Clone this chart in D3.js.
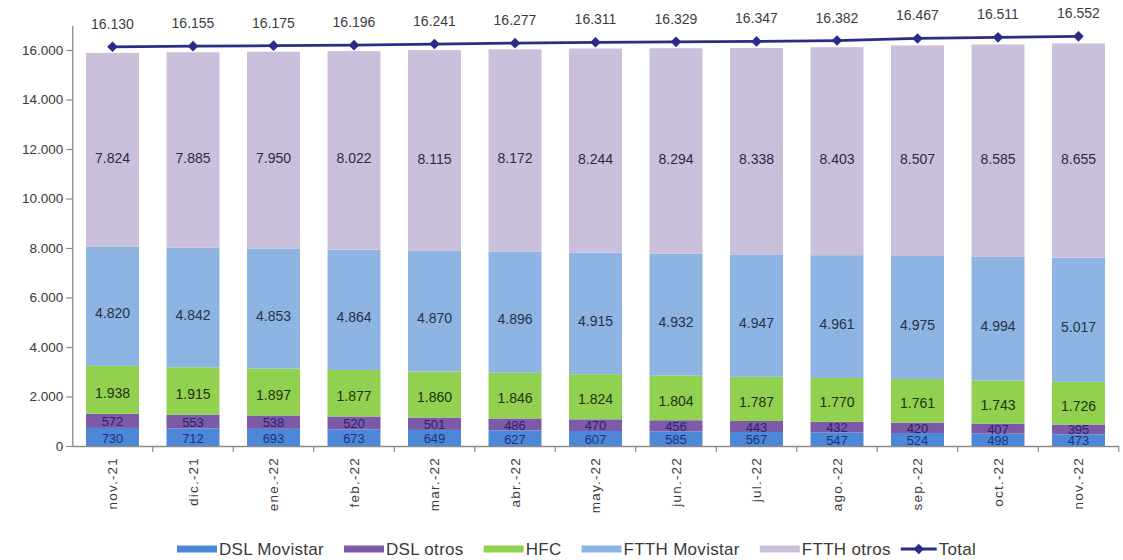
<!DOCTYPE html>
<html>
<head>
<meta charset="utf-8">
<script src="https://cdn.jsdelivr.net/npm/d3@7"></script>
<style>
  html, body { margin: 0; padding: 0; background: #fff; }
  svg { display: block; font-family: "Liberation Sans", Arial, sans-serif; }
</style>
</head>
<body>
<svg id="chart" width="1123" height="560"></svg>
<script>
const months = ["nov.-21","dic.-21","ene.-22","feb.-22","mar.-22","abr.-22","may.-22","jun.-22","jul.-22","ago.-22","sep.-22","oct.-22","nov.-22"];
const dslMovistar = [730,712,693,673,649,627,607,585,567,547,524,498,473];
const dslOtros = [572,553,538,520,501,486,470,456,443,432,420,407,395];
const hfc = [1938,1915,1897,1877,1860,1846,1824,1804,1787,1770,1761,1743,1726];
const ftthMovistar = [4820,4842,4853,4864,4870,4896,4915,4932,4947,4961,4975,4994,5017];
const ftthOtros = [7824,7885,7950,8022,8115,8172,8244,8294,8338,8403,8507,8585,8655];
const total = [16130,16155,16175,16196,16241,16277,16311,16329,16347,16382,16467,16511,16552];
const yTicks = [0,2000,4000,6000,8000,10000,12000,14000,16000];

const series = [
  {key:"DSL Movistar", values:dslMovistar, color:"#4d88d8", text:"#1c3478"},
  {key:"DSL otros", values:dslOtros, color:"#7c5aa7", text:"#2a2270"},
  {key:"HFC", values:hfc, color:"#92d050", text:"#1e3212"},
  {key:"FTTH Movistar", values:ftthMovistar, color:"#8db4e2", text:"#263248"},
  {key:"FTTH otros", values:ftthOtros, color:"#cac0dc", text:"#2b2b3d"}
];
const totalColor = "#2c2b88";

const loc = d3.formatLocale({decimal:",", thousands:".", grouping:[3], currency:["","€"]});
const fmt = loc.format(",d");

const svg = d3.select("#chart");
const x0 = 72.25, x1 = 1118.75;
const x = d3.scaleBand().domain(months).range([x0, x1]).paddingInner(0.342).paddingOuter(0.171);
const y = d3.scaleLinear().domain([0, 17000]).range([446, 25.25]);

const table = months.map((m, i) => {
  const row = {month: m};
  series.forEach(s => row[s.key] = s.values[i]);
  return row;
});
const stack = d3.stack().keys(series.map(s => s.key))(table);

// bars
const g = svg.append("g");
stack.forEach((layer, li) => {
  const s = series[li];
  g.append("g").selectAll("rect").data(layer).join("rect")
    .attr("x", d => x(d.data.month))
    .attr("width", x.bandwidth())
    .attr("y", d => y(d[1]))
    .attr("height", d => y(d[0]) - y(d[1]))
    .attr("fill", s.color);
});

// value labels
stack.forEach((layer, li) => {
  const s = series[li];
  g.append("g").selectAll("text").data(layer).join("text")
    .attr("x", d => x(d.data.month) + x.bandwidth() / 2)
    .attr("y", d => {
      const h = y(d[0]) - y(d[1]);
      return (y(d[0]) + y(d[1])) / 2 + Math.min(8, 0.06 * h);
    })
    .attr("text-anchor", "middle")
    .attr("dominant-baseline", "central")
    .attr("font-size", li < 2 ? 13 : 14)
    .attr("fill", s.text)
    .text(d => fmt(d[1] - d[0]));
});

// y axis
const yAxis = svg.append("g").attr("transform", `translate(${x0},0)`)
  .call(d3.axisLeft(y).tickValues(yTicks).tickSize(6).tickSizeOuter(0).tickFormat(fmt));
yAxis.select(".domain").attr("stroke", "#8a8a8a").attr("stroke-width", 1.3);
yAxis.selectAll(".tick line").attr("stroke", "#8a8a8a").attr("stroke-width", 1.2);
yAxis.selectAll(".tick text").attr("font-size", 13.5).attr("fill", "#3a3a3a")
  .attr("font-family", "Liberation Sans, Arial, sans-serif").attr("x", -9);

// x axis
const xAxis = svg.append("g").attr("transform", `translate(0,${y(0)})`)
  .call(d3.axisBottom(x).tickSize(0).tickSizeOuter(0));
xAxis.select(".domain").attr("stroke", "#8a8a8a").attr("stroke-width", 1.3)
  .attr("d", `M${x0},0.5H${x1}`);
xAxis.selectAll(".tick text")
  .attr("font-size", 13.5).attr("fill", "#3a3a3a")
  .attr("letter-spacing", 1.2)
  .attr("font-family", "Liberation Sans, Arial, sans-serif")
  .attr("transform", "rotate(-90)")
  .attr("text-anchor", "end")
  .attr("dominant-baseline", "central")
  .attr("x", -11).attr("y", 0).attr("dy", null);
const bounds = months.map(m => x(m) - x.step() * x.paddingInner() / 2).slice(1).concat([x1]);
xAxis.append("g").selectAll("line").data(bounds).join("line")
  .attr("x1", d => d).attr("x2", d => d).attr("y1", 0).attr("y2", 6)
  .attr("stroke", "#8a8a8a").attr("stroke-width", 1.2);

// total line
const cx = m => x(m) + x.bandwidth() / 2;
const line = d3.line().x((d, i) => cx(months[i])).y(d => y(d));
svg.append("path").datum(total).attr("d", line)
  .attr("fill", "none").attr("stroke", totalColor).attr("stroke-width", 2.8);
const diamond = d3.symbol().type(d3.symbolDiamond2).size(72);
svg.append("g").selectAll("path").data(total).join("path")
  .attr("transform", (d, i) => `translate(${cx(months[i])},${y(d)})`)
  .attr("d", diamond).attr("fill", totalColor);
svg.append("g").selectAll("text").data(total).join("text")
  .attr("x", (d, i) => cx(months[i]))
  .attr("y", d => y(d) - 23)
  .attr("text-anchor", "middle").attr("dominant-baseline", "central")
  .attr("font-size", 14).attr("fill", "#3c3c3c")
  .text(d => fmt(d));

// legend
const legend = svg.append("g").attr("transform", "translate(177,549)");
let lx = 0;
const items = series.map(s => ({key: s.key, color: s.color, type: "rect"}))
  .concat([{key: "Total", color: totalColor, type: "line"}]);
items.forEach((it, idx) => {
  if (it.type === "line") lx -= 10;
  const gi = legend.append("g").attr("transform", `translate(${lx},0)`);
  if (it.type === "rect") {
    gi.append("rect").attr("x", 0).attr("y", -3.5).attr("width", 40).attr("height", 7).attr("fill", it.color);
  } else {
    gi.append("line").attr("x1", 0).attr("x2", 36).attr("y1", 0).attr("y2", 0)
      .attr("stroke", it.color).attr("stroke-width", 2.8);
    gi.append("path").attr("transform", "translate(18,0)").attr("d", diamond).attr("fill", it.color);
  }
  const tx = it.type === "rect" ? 42 : 38;
  const t = gi.append("text").attr("x", tx).attr("y", 0).attr("dominant-baseline", "central")
    .attr("font-size", 17).attr("letter-spacing", 0.3).attr("fill", "#3a3a3a").text(it.key);
  lx += tx + t.node().getComputedTextLength() + 20;
});
</script>
</body>
</html>
